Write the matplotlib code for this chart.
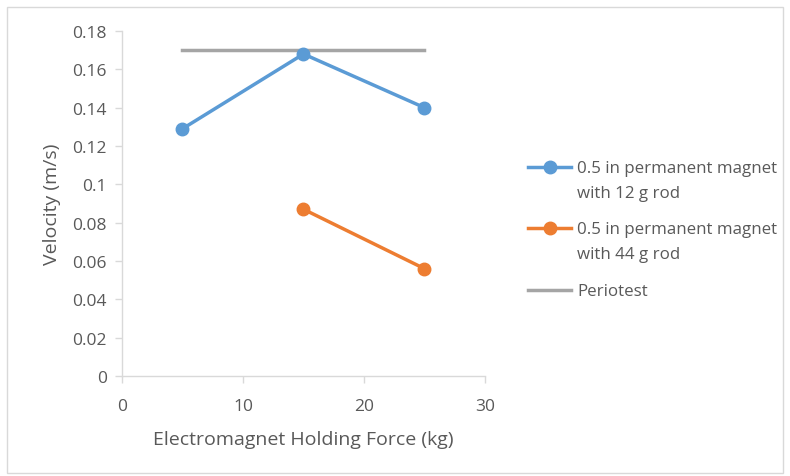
import matplotlib
matplotlib.use("Agg")
import matplotlib.pyplot as plt
from matplotlib.patches import Rectangle
from matplotlib.lines import Line2D

force_12g = [5, 15, 25]
vel_12g = [0.129, 0.168, 0.140]
force_44g = [15, 25]
vel_44g = [0.087, 0.056]
force_perio = [5, 15, 25]
vel_perio = [0.17, 0.17, 0.17]

labels = ['0.5 in permanent magnet\nwith 12 g rod',
          '0.5 in permanent magnet\nwith 44 g rod',
          'Periotest']
colors = ['#5b9bd5', '#ed7d31', '#a5a5a5']

plt.rcParams['font.family'] = ['Open Sans', 'DejaVu Sans']
txt = '#595959'
axc = '#d9d9d9'
W, H = 790, 477

fig = plt.figure(figsize=(7.9, 4.77), dpi=100)
fig.patches.append(Rectangle((0.009, 0.006), 0.982, 0.978, transform=fig.transFigure,
                             fill=False, edgecolor=axc, linewidth=1))
ax = fig.add_axes([0.1544, 0.2096, 0.4595, 0.7233])

ax.plot(force_perio, vel_perio, color=colors[2], lw=2.5, zorder=2)
ax.plot(force_12g, vel_12g, color=colors[0], lw=2.5, marker='o', ms=9, zorder=3)
ax.plot(force_44g, vel_44g, color=colors[1], lw=2.5, marker='o', ms=9, zorder=3)

ax.set_xlim(0, 30)
ax.set_ylim(0, 0.18)
ax.set_xticks([0, 10, 20, 30])
ax.set_yticks([0, 0.02, 0.04, 0.06, 0.08, 0.1, 0.12, 0.14, 0.16, 0.18])
ax.set_yticklabels(['0', '0.02', '0.04', '0.06', '0.08', '0.1', '0.12', '0.14', '0.16', '0.18'])
for s in ['top', 'right']:
    ax.spines[s].set_visible(False)
for s in ['left', 'bottom']:
    ax.spines[s].set_color(axc)
    ax.spines[s].set_linewidth(1)
ax.tick_params(colors=axc, labelcolor=txt, labelsize=12.5, length=5, width=1)
ax.tick_params(axis='x', pad=11)
ax.tick_params(axis='y', pad=6)
ax.set_xlabel('Electromagnet Holding Force (kg)', color=txt, fontsize=14, labelpad=11)
ax.set_ylabel('Velocity (m/s)', color=txt, fontsize=14, labelpad=8)

# legend drawn Excel style: handle level with the first text line
leg_y = [168, 229, 291]
for lab, c, y, mk in zip(labels, colors, leg_y, ['o', 'o', None]):
    yf = 1 - y / H
    fig.add_artist(Line2D([528 / W, 571 / W], [yf, yf], color=c, lw=2.5))
    if mk:
        fig.add_artist(Line2D([549.5 / W], [yf], color=c, marker=mk, ms=9))
    fig.text(577 / W, yf + 7 / H, lab, color=txt, fontsize=12.2, va='top',
             linespacing=1.75)

fig.savefig('out.png', dpi=100)
